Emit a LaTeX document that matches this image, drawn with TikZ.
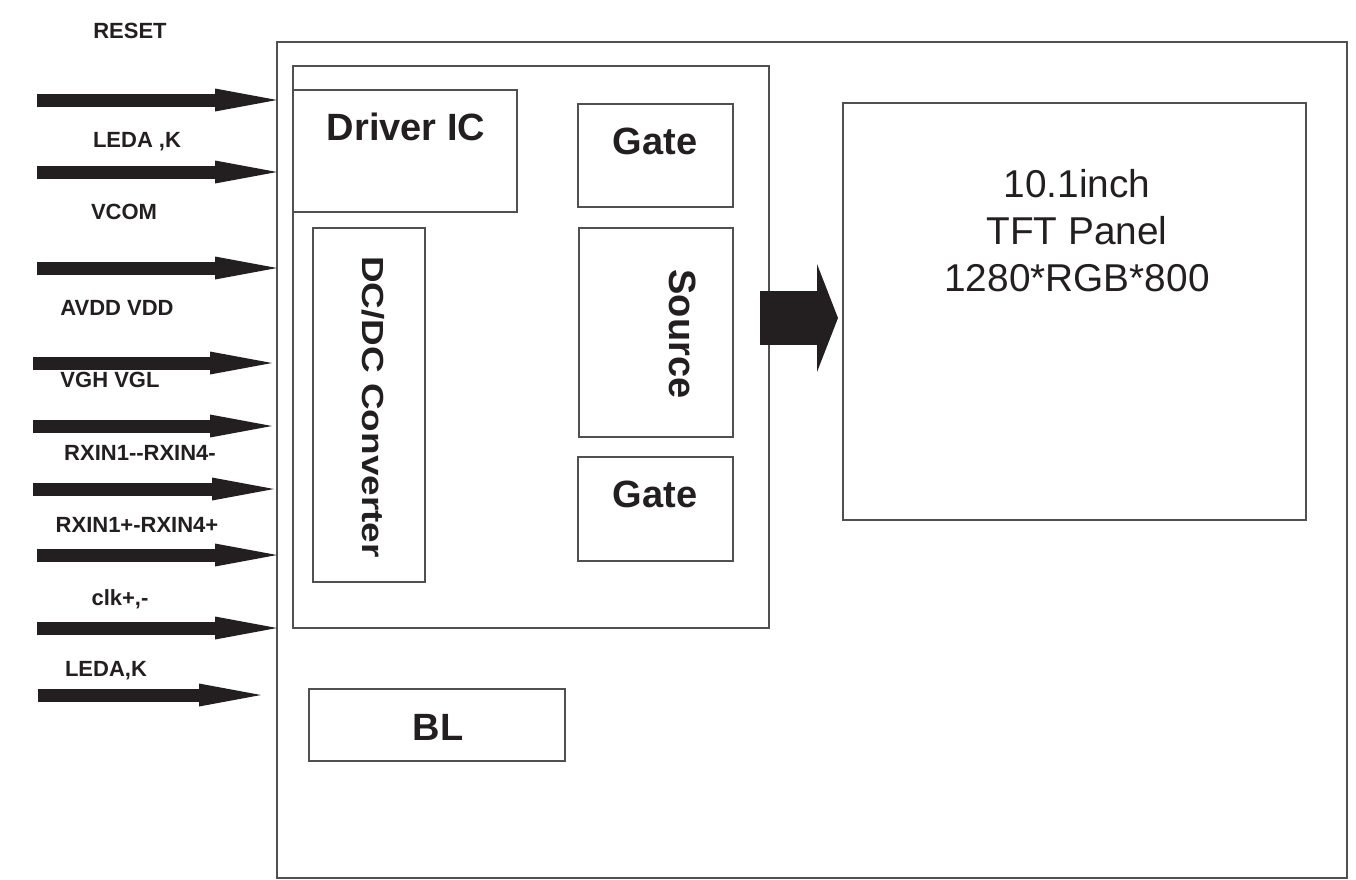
\documentclass[tikz,border=0pt]{standalone}
\usepackage{fontspec}
\setmainfont{Liberation Sans}
\usepackage{graphicx}
\usetikzlibrary{arrows.meta}
\definecolor{ink}{RGB}{35,31,32}
\definecolor{edge}{RGB}{80,80,80}
\begin{document}
\begin{tikzpicture}[x=1pt,y=-1pt,
  box/.style={draw=edge, line width=1.8pt, inner sep=0pt, outer sep=0pt},
  lbl/.style={font=\fontsize{22}{26}\selectfont\bfseries, text=ink, anchor=base, inner sep=0pt},
  blk/.style={font=\fontsize{38}{44}\selectfont\bfseries, text=ink, anchor=base, inner sep=0pt},
  pnl/.style={font=\fontsize{38.8}{46}\selectfont, text=ink, anchor=base, inner sep=0pt},
  sig/.style={draw=ink, line width=13pt, -{Triangle[length=62pt 0,width=23pt 0,line width=0pt]}},
  big/.style={draw=ink, line width=54pt, -{Triangle[length=21pt 0,width=108pt 0,line width=0pt]}}]
\useasboundingbox (0,0) rectangle (1356,879);

% boxes
\node[box, minimum width=1070pt, minimum height=836pt] (outer) at (812,460) {};
\node[box, minimum width=476pt, minimum height=562pt] (inner) at (531,347) {};
\node[box, minimum width=224pt, minimum height=122pt] (drv) at (405,151) {};
\node[box, minimum width=155pt, minimum height=103pt] (gate1) at (655.5,155.5) {};
\node[box, minimum width=154pt, minimum height=209pt] (src) at (656,332.5) {};
\node[box, minimum width=155pt, minimum height=104pt] (gate2) at (655.5,509) {};
\node[box, minimum width=112pt, minimum height=354pt] (dcdc) at (369,405) {};
\node[box, minimum width=463pt, minimum height=417pt] (panel) at (1074.5,311.5) {};
\node[box, minimum width=256pt, minimum height=72pt] (bl) at (437,725) {};

% block texts
\node[blk] (tdrv) at (406,140) {Driver IC};
\node[blk] (tg1) at (655,154) {Gate};
\node[blk] (tg2) at (655,507) {Gate};
\node[blk] (tbl) at (438,740) {BL};
\node[font=\fontsize{38}{44}\selectfont\bfseries, text=ink, inner sep=0pt, rotate=-90] (tsrc) at (682.5,334) {Source};
\node[font=\fontsize{30.5}{34}\selectfont\bfseries, text=ink, inner sep=0pt, rotate=-90] (tdc) at (373,407) {\scalebox{1.21}[1]{DC/DC Converter}};
\node[pnl] (p1) at (1077,197) {10.1inch};
\node[pnl] (p2) at (1077,244) {TFT Panel};
\node[pnl] (p3) at (1077,291) {1280*RGB*800};

% signal labels
\node[lbl] (l1) at (130,38) {RESET};
\node[lbl] (l2) at (137,147) {LEDA ,K};
\node[lbl] (l3) at (124,219) {VCOM};
\node[lbl] (l4) at (117,315) {AVDD VDD};
\node[lbl] (l5) at (110,387) {VGH VGL};
\node[lbl] (l6) at (140,460) {RXIN1-{}-RXIN4-};
\node[lbl] (l7) at (137,532) {RXIN1+-RXIN4+};
\node[lbl] (l8) at (120,605) {clk+,-};
\node[lbl] (l9) at (106,676) {LEDA,K};

% signal arrows
\coordinate (s1) at (37,100);  \coordinate (e1) at (277,100);
\coordinate (s2) at (37,172);  \coordinate (e2) at (277,172);
\coordinate (s3) at (37,268);  \coordinate (e3) at (277,268);
\coordinate (s4) at (33,363);  \coordinate (e4) at (272,363);
\coordinate (s5) at (33,426);  \coordinate (e5) at (272,426);
\coordinate (s6) at (33,489);  \coordinate (e6) at (274,489);
\coordinate (s7) at (37,555);  \coordinate (e7) at (277,555);
\coordinate (s8) at (37,628);  \coordinate (e8) at (277,628);
\coordinate (s9) at (38,695);  \coordinate (e9) at (261,695);
\foreach \i in {1,...,9} { \draw[sig] (s\i) -- (e\i); }

% big arrow to panel
\coordinate (bs) at (760,318);
\coordinate (be) at (838,318);
\draw[big] (bs) -- (be);
\end{tikzpicture}
\end{document}
